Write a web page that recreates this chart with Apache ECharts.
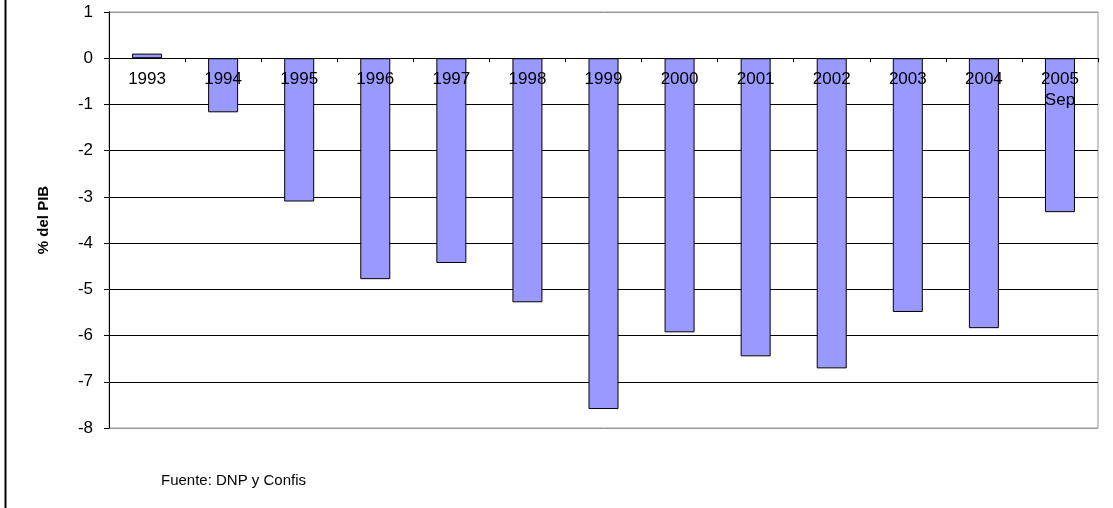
<!DOCTYPE html>
<html>
<head>
<meta charset="utf-8">
<script src="https://cdn.jsdelivr.net/npm/echarts@6/dist/echarts.min.js"></script>
<style>
html,body{margin:0;padding:0;background:#fff;}
#chart{width:1113px;height:508px;}
</style>
</head>
<body>
<div id="chart"></div>
<script>
var categories = ['1993','1994','1995','1996','1997','1998','1999','2000','2001','2002','2003','2004','2005\nSep'];
var values = [0.1, -1.17, -3.1, -4.78, -4.43, -5.28, -7.59, -5.93, -6.45, -6.71, -5.49, -5.84, -3.33];
var yTicks = { min: -8, max: 1, interval: 1 };
var yName = '% del PIB';
var sourceNote = 'Fuente: DNP y Confis';

var gridTop = 12, gridBottomPx = 428;
var zeroY = gridTop + (gridBottomPx - gridTop) * (yTicks.max - 0) / (yTicks.max - yTicks.min);

var chart = echarts.init(document.getElementById('chart'), null, {renderer: 'canvas'});
var splitColors = ['#999999','#000','#000','#000','#000','#000','#000','#000','#000','#999999'];
chart.setOption({
  animation: false,
  backgroundColor: '#fff',
  grid: { left: 109, right: 15, top: gridTop, bottom: 508 - gridBottomPx, show: true, borderColor: '#999999', borderWidth: 1, backgroundColor: 'transparent' },
  xAxis: {
    type: 'category',
    data: categories,
    z: 10,
    offset: -(gridBottomPx - zeroY),
    axisLine: { onZero: false, lineStyle: { color: '#000', width: 1 } },
    axisTick: { show: true, inside: false, length: 4, lineStyle: { color: '#000' } },
    axisLabel: { color: '#000', fontFamily: 'Liberation Sans, Arial', fontSize: 17, margin: 11, lineHeight: 21 },
    splitLine: { show: false }
  },
  yAxis: {
    type: 'value',
    min: yTicks.min, max: yTicks.max, interval: yTicks.interval,
    name: yName,
    nameLocation: 'middle',
    nameGap: 58,
    nameTextStyle: { color: '#000', fontFamily: 'Liberation Sans, Arial', fontSize: 15, fontWeight: 'bold' },
    axisLine: { show: true, lineStyle: { color: '#000', width: 1 } },
    axisTick: { show: true, length: 5, lineStyle: { color: '#000' } },
    axisLabel: { color: '#000', fontFamily: 'Liberation Sans, Arial', fontSize: 17, margin: 16 },
    splitLine: { show: true, lineStyle: { color: splitColors, width: 1 } }
  },
  series: [{
    type: 'bar',
    data: values,
    barWidth: 30,
    itemStyle: { color: '#9999FF', borderColor: '#000', borderWidth: 1 }
  }],
  graphic: [
    { type: 'line', shape: { x1: 5.5, y1: 0, x2: 5.5, y2: 508 }, style: { stroke: '#000', lineWidth: 2 } },
    { type: 'text', left: 161, top: 473, style: { text: sourceNote, fill: '#000', font: '15px "Liberation Sans", Arial' } }
  ]
});
</script>
</body>
</html>
